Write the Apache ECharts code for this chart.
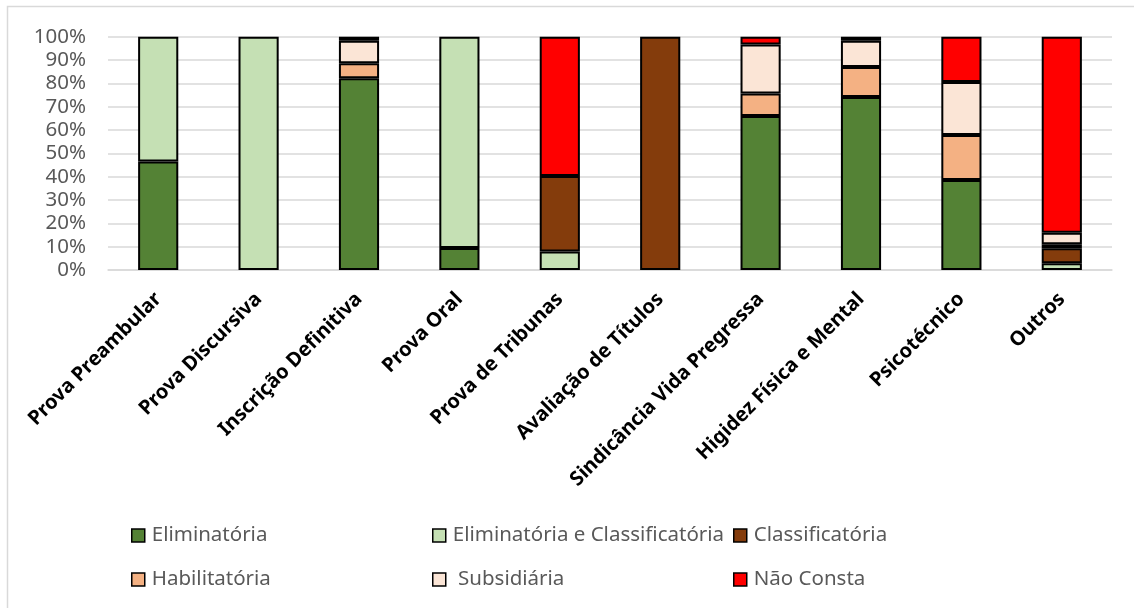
<!DOCTYPE html>
<html>
<head>
<meta charset="utf-8">
<script src="https://cdn.jsdelivr.net/npm/echarts@6/dist/echarts.min.js"></script>
<style>
  html, body { margin: 0; padding: 0; background: #fff; }
  #chart { width: 1134px; height: 608px; }
</style>
</head>
<body>
<div id="chart"></div>
<script>
// Stages of the selection process
const categories = [
  'Prova Preambular', 'Prova Discursiva', 'Inscrição Definitiva', 'Prova Oral',
  'Prova de Tribunas', 'Avaliação de Títulos', 'Sindicância Vida Pregressa',
  'Higidez Física e Mental', 'Psicotécnico', 'Outros'
];

// Share (%) of each stage character, per stage
const eliminatoria          = [46.5, 0, 82.2, 9.4, 0, 0, 66.0, 74.1, 38.6, 0];
const eliminatoriaClassif   = [53.5, 100, 0, 90.6, 7.9, 0, 0, 0, 0, 2.9];
const classificatoria       = [0, 0, 0, 0, 32.4, 100, 0, 0, 0, 6.4];
const habilitatoria         = [0, 0, 6.4, 0, 0, 0, 9.7, 12.9, 19.3, 1.7];
const subsidiaria           = [0, 0, 9.7, 0, 0, 0, 21.0, 11.3, 22.7, 5.0];
const naoConsta             = [0, 0, 1.7, 0, 59.7, 0, 3.3, 1.7, 19.4, 84.0];

const yTicks = [0, 10, 20, 30, 40, 50, 60, 70, 80, 90, 100];

const seriesDefs = [
  { name: 'Eliminatória', data: eliminatoria, color: '#548235' },
  { name: 'Eliminatória e Classificatória', data: eliminatoriaClassif, color: '#C5E0B4' },
  { name: 'Classificatória', data: classificatoria, color: '#843C0C' },
  { name: 'Habilitatória', data: habilitatoria, color: '#F4B183' },
  { name: ' Subsidiária', data: subsidiaria, color: '#FBE5D6' },
  { name: 'Não Consta', data: naoConsta, color: '#FF0000' }
];

// legend slots: three columns, two rows
const legendCols = [131, 432, 733];
const legendRows = [525, 569];
const legendSlots = [
  [0, 0], [1, 0], [2, 0],
  [0, 1], [1, 1], [2, 1]
];

const textFont = '"Noto Sans", "Open Sans", sans-serif';

const chart = echarts.init(document.getElementById('chart'), null, { renderer: 'canvas' });

const option = {
  backgroundColor: '#ffffff',
  animation: false,
  graphic: [{
    type: 'rect',
    shape: { x: 7.5, y: 6.5, width: 1140, height: 620 },
    style: { fill: 'none', stroke: '#D9D9D9', lineWidth: 1.5 },
    silent: true
  }],
  grid: { left: 108, right: 22, top: 36.7, bottom: 338 },
  legend: seriesDefs.map((s, i) => ({
    data: [s.name],
    left: legendCols[legendSlots[i][0]],
    top: legendRows[legendSlots[i][1]],
    padding: 0,
    itemWidth: 13,
    itemHeight: 13,
    icon: 'rect',
    selectedMode: false,
    itemStyle: { borderColor: '#000', borderWidth: 1.5 },
    textStyle: { fontFamily: textFont, fontSize: 20.5, color: '#595959', padding: [0, 0, 0, 2] }
  })),
  xAxis: {
    type: 'category',
    data: categories,
    axisLine: { show: true, lineStyle: { color: '#D9D9D9', width: 1.5 } },
    axisTick: { show: false },
    axisLabel: {
      rotate: 45,
      interval: 0,
      margin: 26,
      fontFamily: textFont,
      fontWeight: 'bold',
      fontSize: 20,
      color: '#000'
    }
  },
  yAxis: {
    type: 'value',
    min: yTicks[0],
    max: yTicks[yTicks.length - 1],
    interval: yTicks[1] - yTicks[0],
    axisLine: { show: false },
    axisTick: { show: false },
    splitLine: { lineStyle: { color: '#D9D9D9', width: 1.5 } },
    axisLabel: {
      margin: 22,
      formatter: '{value}%',
      fontFamily: textFont,
      fontSize: 20.5,
      color: '#595959'
    }
  },
  series: seriesDefs.map(s => ({
    name: s.name,
    type: 'bar',
    stack: 'total',
    barWidth: '40%',
    data: s.data.map(v => (v === 0 ? '-' : v)),
    itemStyle: { color: s.color, borderColor: '#000', borderWidth: 2 }
  }))
};

chart.setOption(option);
</script>
</body>
</html>
